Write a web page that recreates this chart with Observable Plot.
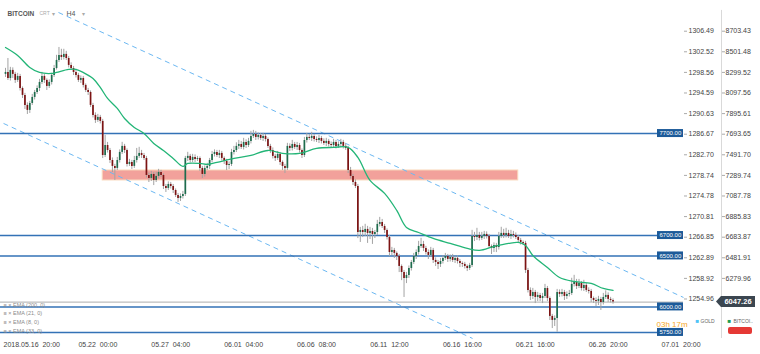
<!DOCTYPE html>
<html><head><meta charset="utf-8">
<script src="https://cdn.jsdelivr.net/npm/d3@7"></script>
<script src="https://cdn.jsdelivr.net/npm/@observablehq/plot@0.6"></script>
<style>html,body{margin:0;padding:0;background:#fff;} #chart{width:760px;height:354px;overflow:hidden}</style>
</head><body><div id="chart"></div>
<script>
// H4 candles, index 0..250 (open of each candle = previous close)
const firstOpen = 8280;
const closes = [
8299,8240,8319,8280,8221,8260,8142,8074,7976,7927,
7995,8054,8103,8142,8201,8260,8221,8162,8201,8270,
8338,8417,8466,8446,8476,8436,8368,8338,8299,8270,
8221,8240,8172,8123,8103,7976,7878,7829,7858,7819,
7485,7583,7534,7436,7378,7358,7436,7515,7574,7534,
7397,7417,7378,7436,7476,7505,7485,7456,7289,7260,
7299,7240,7280,7319,7289,7181,7162,7201,7181,7142,
7093,7064,7083,7103,7456,7476,7436,7466,7446,7456,
7358,7299,7358,7378,7436,7495,7515,7485,7505,7456,
7427,7387,7397,7515,7534,7574,7593,7564,7613,7583,
7623,7672,7691,7662,7681,7652,7672,7642,7574,7534,
7476,7456,7495,7417,7378,7358,7574,7554,7593,7564,
7583,7534,7485,7632,7662,7652,7672,7642,7632,7652,
7623,7603,7623,7593,7583,7613,7574,7593,7613,7574,
7554,7338,7280,7221,7181,6730,6750,6730,6760,6721,
6740,6711,6730,6809,6828,6789,6750,6681,6534,6554,
6525,6495,6397,6338,6279,6309,6377,6436,6495,6534,
6593,6613,6574,6534,6505,6554,6456,6436,6417,6446,
6476,6495,6466,6485,6456,6476,6446,6426,6417,6397,
6377,6407,6691,6681,6701,6672,6691,6711,6691,6593,
6574,6603,6583,6691,6721,6701,6721,6691,6711,6701,
6681,6652,6632,6623,6358,6162,6103,6142,6093,6113,
6083,6103,6181,6083,5907,5868,5887,6142,6123,6142,
6103,6123,6132,6221,6240,6201,6230,6181,6211,6162,
6152,6083,6064,6054,6074,6044,6093,6113,6074,6064,6047.26];
const wickUp = [
40,137,30,25,20,30,20,15,20,25, 20,30,20,25,30,40,20,15,25,20,
30,50,78,60,50,30,20,25,20,30, 20,25,20,15,20,15,20,25,30,20,
20,98,30,20,25,20,30,25,40,20, 15,30,20,40,78,60,30,20,20,25,
30,20,40,30,20,15,20,25,20,20, 15,20,25,30,20,40,20,30,25,20,
15,20,25,30,20,30,25,20,30,20, 15,20,25,30,40,35,40,30,40,25,
30,50,40,30,25,20,30,20,15,20, 25,20,30,20,15,20,30,25,40,20,
30,20,15,30,40,30,40,20,25,30, 20,25,30,20,25,30,20,25,30,20,
25,20,30,20,25,20,30,40,50,30, 40,30,20,40,50,30,20,15,20,30,
20,15,20,15,20,30,25,20,30,25, 50,60,30,20,25,30,20,25,20,30,
25,30,20,25,30,20,25,20,15,20, 15,20,60,40,70,30,40,30,25,20,
15,25,20,40,60,40,50,30,40,30, 25,20,20,15,20,20,25,40,20,30,
20,30,40,20,15,20,25,30,25,30, 20,25,30,60,70,30,40,20,50,20,
25,20,15,25,30,20,40,45,25,20,15];
const wickDown = [
30,20,25,40,30,20,25,30,40,40, 30,20,25,20,30,20,30,40,20,25,
20,15,20,30,25,20,25,20,30,25, 20,30,25,20,30,20,25,30,20,25,
30,20,25,30,60,118,20,25,20,30, 25,20,30,20,25,20,30,20,25,40,
30,50,20,25,20,30,40,20,25,30, 20,40,30,25,20,30,25,20,30,20,
30,40,25,20,30,20,25,20,30,25, 30,50,40,20,25,20,30,20,25,30,
20,25,20,30,25,20,30,25,20,30, 25,30,20,30,40,50,20,30,25,20,
30,25,30,20,25,20,30,25,20,30, 25,20,30,25,20,30,25,20,30,25,
20,30,25,30,20,60,98,50,40,98, 60,98,40,30,25,20,30,25,40,30,
50,40,60,80,186,50,30,25,20,30, 25,20,30,25,40,20,30,40,50,30,
25,20,30,25,20,30,25,40,30,25, 30,20,20,40,30,25,20,30,25,20,
60,40,50,25,20,30,25,20,30,25, 20,30,25,20,30,25,40,30,60,40,
30,50,20,30,40,80,60,135,30,25, 40,30,25,20,25,30,20,25,30,20,
25,40,30,50,40,78,25,20,30,25,20];

// EMA (21)
const emaIdx = [0,5,10,14,19,21,26,29,32,36,39,42,46,49,53,57,61,65,69,73,75,80,83,87,94,101,108,114,121,128,135,141,145,150,156,161,165,170,176,183,190,195,201,207,211,214,217,223,228,234,241,246,250];
const emaVal = [8544,8466,8348,8299,8289,8299,8329,8329,8299,8240,8152,8044,7946,7848,7760,7701,7603,7534,7456,7378,7407,7407,7397,7417,7456,7485,7534,7505,7505,7554,7564,7564,7466,7240,7113,6946,6779,6730,6672,6623,6574,6554,6593,6623,6632,6603,6505,6387,6289,6250,6230,6181,6162];

const levels = [7700, 6700, 6500, 6000, 5750];
const zoneX = [40, 211];
const zoneY = [7240, 7338];
const trendStartX = [21.8, -0.8], trendStartY = [8887, 7799];
const trendEndX = [279, 192.2], trendEndY = [6093, 5691];

const btcTicks = [8703.43,8501.48,8299.52,8097.56,7895.61,7693.65,7491.70,7289.74,7087.78,6885.83,6683.87,6481.91,6279.96,6078.00];
const goldTicks = ["1306.49","1302.52","1298.56","1294.59","1290.63","1286.67","1282.70","1278.74","1274.78","1270.81","1266.85","1262.89","1258.92","1254.96"];
const xTickIdx = [8,38,68,98,128,158,188,218,248,278];
const xTickLabels = ["2018.05.16  20:00","05.22  00:00","05.27  04:00","06.01  04:00","06.06  08:00","06.11  12:00","06.16  16:00","06.21  16:00","06.26  20:00","07.01  20:00"];
const emaLegend = ["≡ × EMA (200, 0)","≡ × EMA (21, 0)","≡ × EMA (8, 0)","≡ × EMA (33, 0)"];
const lastPrice = 6047.26;

const sp = s => s.replace(/  /g, "\u00a0\u00a0");
const candles = closes.map((c, i) => {
  const o = i ? closes[i - 1] : firstOpen;
  return {i, open: o, close: c, high: Math.max(o, c) + wickUp[i], low: Math.min(o, c) - wickDown[i], up: c >= o};
});
const ema = emaIdx.map((x, k) => ({x, y: emaVal[k]}));
const trends = trendStartX.map((x, k) => ({x1: x, y1: trendStartY[k], x2: trendEndX[k], y2: trendEndY[k]}));
const goldMap = new Map(btcTicks.map((v, k) => [v, goldTicks[k]]));
const xLabMap = new Map(xTickIdx.map((v, k) => [v, sp(xTickLabels[k])]));
// the last BTC tick label sits under the current-price marker, so it is not drawn
const btcVisible = btcTicks.slice(0, -1);

const decor = (index, scales, values, dim) => {
  const g = d3.create("svg:g");
  const fx = dim.width - dim.marginRight;
  const y = scales.y(lastPrice);
  g.append("path")
    .attr("d", `M${fx + 33},${y} l5,-5.5 h34 v11 h-34 z`)
    .attr("fill", "#3b4650");
  g.append("text").attr("x", fx + 55).attr("y", y).attr("dy", "0.35em")
    .attr("text-anchor", "middle").attr("fill", "#fff").attr("font-size", 7.5).attr("font-weight", "bold")
    .text(lastPrice.toFixed(2));
  g.append("rect").attr("x", fx + 45).attr("y", dim.height - dim.marginBottom - 11)
    .attr("width", 24).attr("height", 7).attr("rx", 2).attr("fill", "#e53935");
  return g.node();
};

const chart = Plot.plot({
  width: 760, height: 354,
  marginLeft: 0, marginRight: 77, marginTop: 0, marginBottom: 16,
  x: {type: "linear", domain: [-2.06, 279], axis: null},
  y: {domain: [5690.6, 9004.4], axis: null},
  style: {fontFamily: "'Liberation Sans', Arial, sans-serif", fontSize: "7px", color: "#444", background: "#fff"},
  marks: [
    Plot.rect([0], {x1: () => zoneX[0], x2: () => zoneX[1], y1: () => zoneY[0], y2: () => zoneY[1], fill: "#f2a19b", stroke: "#f9d9bc", strokeWidth: 1}),
    Plot.link(trends, {x1: "x1", y1: "y1", x2: "x2", y2: "y2", stroke: "#6cb8f2", strokeWidth: 1, strokeDasharray: "5,4"}),
    Plot.ruleY(levels, {stroke: "#3372b6", strokeWidth: 1.6}),
    Plot.ruleY([lastPrice], {stroke: "#bdbdbd", strokeWidth: 1.2}),
    Plot.ruleX(candles, {x: "i", y1: "low", y2: "high", stroke: "#a3a3a3", strokeWidth: 1}),
    Plot.ruleX(candles, {x: "i", y1: "open", y2: "close", stroke: d => d.up ? "#1e6c4d" : "#7c1313", strokeWidth: 1.7}),
    Plot.line(ema, {x: "x", y: "y", curve: "catmull-rom", stroke: "#23b577", strokeWidth: 1.3}),
    // timer text (partly hidden by the 5750 box)
    Plot.text(["03h 17m"], {frameAnchor: "bottom-right", dx: -27, dy: -12, textAnchor: "start", fill: "#f5a623", fontSize: 8}),
    // level labels
    Plot.rect(levels, {x1: 268.3, x2: 279, y1: d => d, y2: d => d, insetTop: -4, insetBottom: -4, fill: "#1c5a99"}),
    Plot.text(levels, {x: 273.6, y: d => d, text: d => d.toFixed(2), fill: "#fff", fontSize: 6}),
    // axes
    Plot.axisY(btcTicks, {anchor: "right", tickFormat: d => goldMap.get(d), tickSize: 3, tickPadding: 2, stroke: "#aaa", fontSize: 7}),
    Plot.axisY(btcVisible, {anchor: "right", tickFormat: d => d.toFixed(2), tickSize: 3, tickPadding: 1, dx: 38, stroke: "#aaa", fontSize: 7}),
    Plot.ruleX([279], {y1: 8907, y2: 5690.6, dx: 38, stroke: "#d9d9d9"}),
    Plot.axisX(xTickIdx.slice(1), {tickFormat: d => xLabMap.get(d), tickSize: 0, tickPadding: 4, fontSize: 7}),
    Plot.text([sp(xTickLabels[0])], {frameAnchor: "bottom-left", dx: 3, dy: 4, lineAnchor: "top", textAnchor: "start", fontSize: 7, fill: "#444"}),
    // header
    Plot.text(["BITCOIN"], {frameAnchor: "top-left", dx: 7, dy: 11, textAnchor: "start", fontWeight: "bold", fontSize: 6.5, fill: "#555"}),
    Plot.text(["CRT"], {frameAnchor: "top-left", dx: 39, dy: 11, textAnchor: "start", fontSize: 5, fill: "#aaa"}),
    Plot.text(["▾"], {frameAnchor: "top-left", dx: 51, dy: 11, textAnchor: "start", fontSize: 6, fill: "#aaa"}),
    Plot.text(["H4"], {frameAnchor: "top-left", dx: 66, dy: 11, textAnchor: "start", fontSize: 7, fill: "#555"}),
    Plot.text(["▾"], {frameAnchor: "top-left", dx: 81, dy: 11, textAnchor: "start", fontSize: 6, fill: "#aaa"}),
    // EMA legend
    ...emaLegend.map((t, k) => Plot.text([t], {frameAnchor: "bottom-left", dx: 3, dy: -32 + k * 8.7, textAnchor: "start", fontSize: 5.5, fill: "#8a8a8a"})),
    // series legend
    Plot.text(["■"], {frameAnchor: "bottom-right", dx: 12, dy: -15.5, textAnchor: "start", fontSize: 6, fill: "#4fc3f7"}),
    Plot.text(["GOLD"], {frameAnchor: "bottom-right", dx: 17, dy: -15.5, textAnchor: "start", fontSize: 5, fill: "#666"}),
    Plot.text(["■"], {frameAnchor: "bottom-right", dx: 44, dy: -15.5, textAnchor: "start", fontSize: 6, fill: "#1f9d55"}),
    Plot.text(["BITCOI.."], {frameAnchor: "bottom-right", dx: 50, dy: -15.5, textAnchor: "start", fontSize: 5, fill: "#666"}),
    decor
  ]
});
document.getElementById("chart").append(chart);
</script></body></html>
